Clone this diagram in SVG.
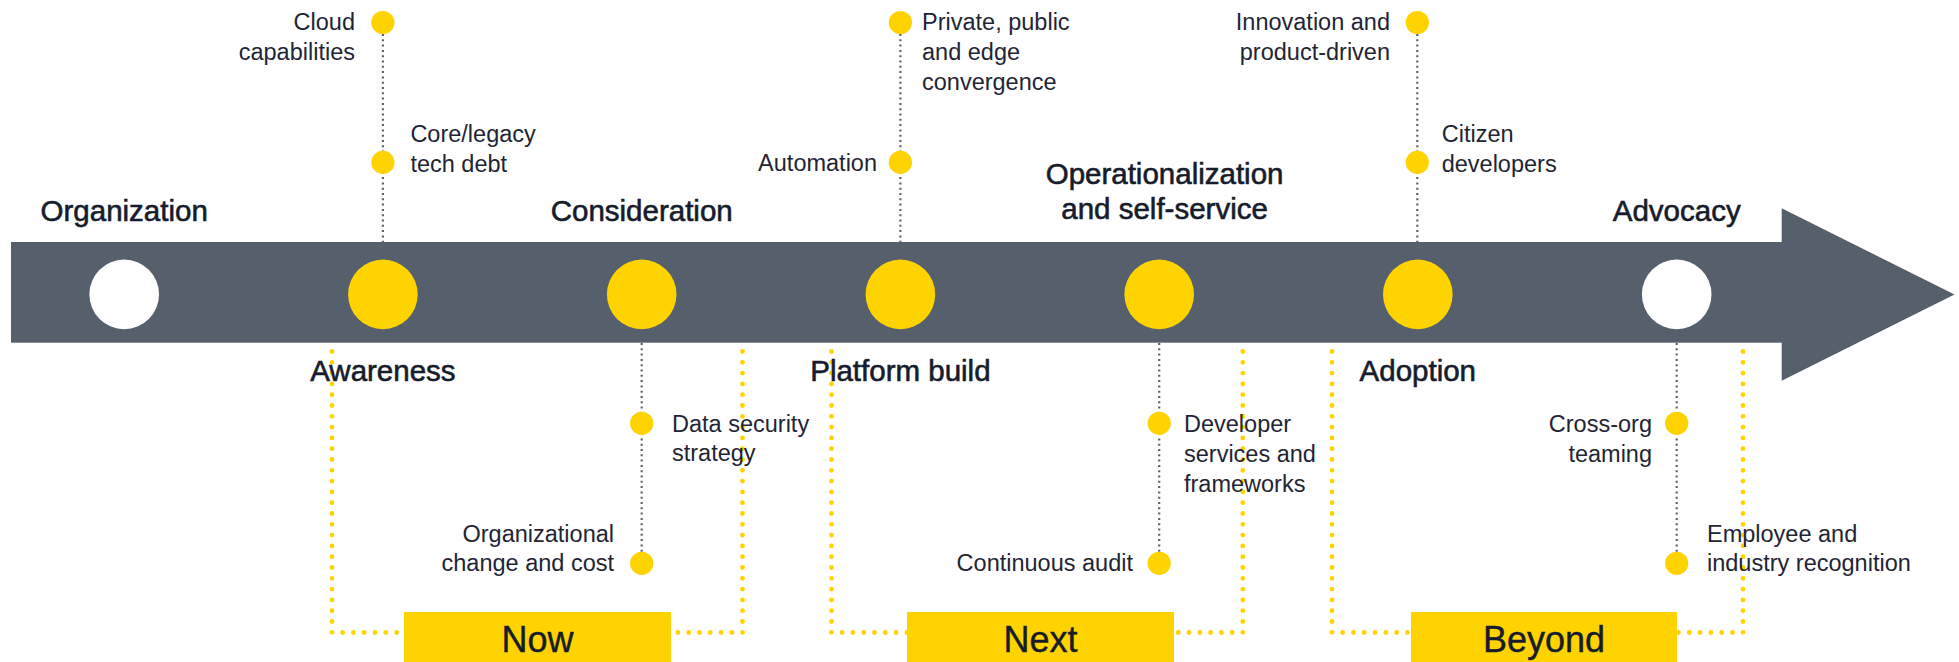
<svg xmlns="http://www.w3.org/2000/svg" width="1959" height="662" viewBox="0 0 1959 662">
<style>
text{font-family:"Liberation Sans",Arial,sans-serif;fill:#161c2c}
.t{font-size:29.5px;stroke:#161c2c;stroke-width:0.6}
.s{font-size:23.5px;fill:#1f2535}
.b{font-size:36px;stroke:#161c2c;stroke-width:0.4}
.m{text-anchor:middle}
.e{text-anchor:end}
.big{fill:#FFD300}
.wh{fill:#ffffff}
.dot{fill:#FFD300}
.box{fill:#FFD300}
.g{fill:none;stroke:#5a6470;stroke-width:2.2;stroke-dasharray:2 3.3}
.y{fill:none;stroke:#FFD300;stroke-width:4.8;stroke-linecap:round;stroke-dasharray:0 10.8}
</style>
<g id="arrow">
<rect x="11" y="242" width="1771" height="100.7" fill="#55606C"/>
<polygon points="1781.7,208.3 1954.5,294.5 1781.7,380.7" fill="#55606C"/>
</g>
<g id="connectors">
<line class="g" x1="382.9" y1="34" x2="382.9" y2="242"/>
<line class="g" x1="900.4" y1="34" x2="900.4" y2="242"/>
<line class="g" x1="1417.3" y1="34" x2="1417.3" y2="242"/>
<line class="g" x1="641.7" y1="343" x2="641.7" y2="552"/>
<line class="g" x1="1159.2" y1="343" x2="1159.2" y2="552"/>
<line class="g" x1="1676.7" y1="343" x2="1676.7" y2="552"/>
<path class="y" d="M332,351.5 V632.5 H404"/>
<path class="y" d="M742.5,351.5 V632.5 H671"/>
<path class="y" d="M831.5,351.5 V632.5 H907"/>
<path class="y" d="M1242.8,351.5 V632.5 H1174"/>
<path class="y" d="M1332,351.5 V632.5 H1411"/>
<path class="y" d="M1743,351.5 V632.5 H1677"/>
</g>
<g id="organization"><circle class="wh" cx="124.2" cy="294.4" r="34.8"/><text class="t m" x="124.2" y="221">Organization</text></g>
<g id="awareness"><circle class="big" cx="382.9" cy="294.4" r="34.8"/><text class="t m" x="382.9" y="381">Awareness</text></g>
<g id="consideration"><circle class="big" cx="641.7" cy="294.4" r="34.8"/><text class="t m" x="641.7" y="221">Consideration</text></g>
<g id="platform-build"><circle class="big" cx="900.4" cy="294.4" r="34.8"/><text class="t m" x="900.4" y="381">Platform build</text></g>
<g id="operationalization"><circle class="big" cx="1159.2" cy="294.4" r="34.8"/><text class="t m" x="1164.6" y="183.5">Operationalization</text><text class="t m" x="1164.6" y="218.5">and self-service</text></g>
<g id="adoption"><circle class="big" cx="1417.8" cy="294.4" r="34.8"/><text class="t m" x="1417.8" y="381">Adoption</text></g>
<g id="advocacy"><circle class="wh" cx="1676.7" cy="294.4" r="34.8"/><text class="t m" x="1676.7" y="221">Advocacy</text></g>
<g id="cloud-capabilities"><circle class="dot" cx="382.9" cy="22.5" r="11.6"/><text class="s e" x="355" y="30">Cloud</text><text class="s e" x="355" y="60">capabilities</text></g>
<g id="core-legacy"><circle class="dot" cx="382.9" cy="162.4" r="11.6"/><text class="s" x="410.4" y="141.7">Core/legacy</text><text class="s" x="410.4" y="171.7">tech debt</text></g>
<g id="private-public"><circle class="dot" cx="900.4" cy="22.5" r="11.6"/><text class="s" x="922" y="30">Private, public</text><text class="s" x="922" y="60">and edge</text><text class="s" x="922" y="89.5">convergence</text></g>
<g id="automation"><circle class="dot" cx="900.4" cy="162.4" r="11.6"/><text class="s e" x="877" y="170.5">Automation</text></g>
<g id="innovation"><circle class="dot" cx="1417.3" cy="22.5" r="11.6"/><text class="s e" x="1390" y="30">Innovation and</text><text class="s e" x="1390" y="60">product-driven</text></g>
<g id="citizen-developers"><circle class="dot" cx="1417.3" cy="162.4" r="11.6"/><text class="s" x="1441.7" y="141.7">Citizen</text><text class="s" x="1441.7" y="171.7">developers</text></g>
<g id="data-security"><circle class="dot" cx="641.7" cy="423.3" r="11.6"/><text class="s" x="672" y="431.7">Data security</text><text class="s" x="672" y="461.2">strategy</text></g>
<g id="org-change"><circle class="dot" cx="641.7" cy="563.3" r="11.6"/><text class="s e" x="614" y="541.7">Organizational</text><text class="s e" x="614" y="571">change and cost</text></g>
<g id="developer-services"><circle class="dot" cx="1159.2" cy="423.3" r="11.6"/><text class="s" x="1184" y="431.7">Developer</text><text class="s" x="1184" y="461.7">services and</text><text class="s" x="1184" y="491.7">frameworks</text></g>
<g id="continuous-audit"><circle class="dot" cx="1159.2" cy="563.3" r="11.6"/><text class="s e" x="1133" y="570.7">Continuous audit</text></g>
<g id="cross-org"><circle class="dot" cx="1676.7" cy="423.3" r="11.6"/><text class="s e" x="1652" y="431.7">Cross-org</text><text class="s e" x="1652" y="461.7">teaming</text></g>
<g id="employee-recognition"><circle class="dot" cx="1676.7" cy="563.3" r="11.6"/><text class="s" x="1707" y="541.7">Employee and</text><text class="s" x="1707" y="571">industry recognition</text></g>
<g id="now"><rect class="box" x="404" y="612" width="267" height="52"/><text class="b m" x="537.5" y="651.7">Now</text></g>
<g id="next"><rect class="box" x="907" y="612" width="267" height="52"/><text class="b m" x="1040.5" y="651.7">Next</text></g>
<g id="beyond"><rect class="box" x="1411" y="612" width="266" height="52"/><text class="b m" x="1544" y="651.7">Beyond</text></g>
</svg>
